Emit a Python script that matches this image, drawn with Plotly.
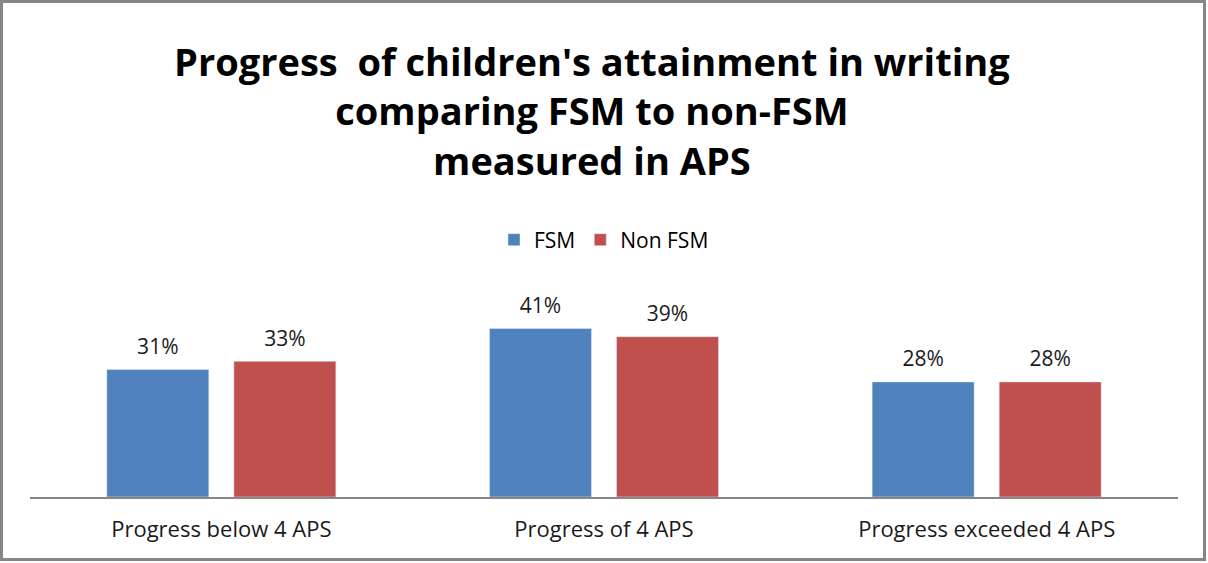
import plotly.graph_objects as go

categories = ["Progress below 4 APS", "Progress of 4 APS", "Progress exceeded 4 APS"]
fsm = [0.31, 0.41, 0.28]
non_fsm = [0.33, 0.39, 0.28]
series_names = ["FSM", "Non FSM"]
colors = ["#4F81BD", "#C0504D"]

W, H = 1208, 563
ml, mr, mt, mb = 30, 30, 312, 66

fig = go.Figure()
for name, vals, col in zip(series_names, [fsm, non_fsm], colors):
    fig.add_trace(go.Bar(
        x=categories, y=vals, name=name, marker_color=col,
        texttemplate="<span style='font-size:21px'>%{y:.0%}</span><br>&nbsp;",
        textposition="outside",
        textfont=dict(size=8, color="#1a1a1a"), cliponaxis=False,
    ))

pw = W - ml - mr
ph = H - mt - mb
fig.add_shape(type="rect", xref="paper", yref="paper",
              x0=(1.5 - ml) / pw, x1=(W - 3.5 - ml) / pw,
              y0=-(mb - 3.5) / ph, y1=1 + (mt - 1.5) / ph,
              line=dict(color="#868686", width=3))

fig.update_layout(
    width=W, height=H,
    margin=dict(l=ml, r=mr, t=mt, b=mb),
    paper_bgcolor="white", plot_bgcolor="white",
    barmode="group", bargap=0.336, bargroupgap=0.197,
    title=dict(
        text="Progress  of children's attainment in writing<br>comparing FSM to non-FSM<br>measured in APS",
        x=0.49, xanchor="center", y=1 - 76 / 563, yanchor="middle",
        font=dict(family="Open Sans", size=38, color="#000000", weight="bold"),
    ),
    legend=dict(orientation="h", x=0.5, xanchor="center", y=1 + (mt - 240) / ph, yanchor="middle",
                font=dict(family="Open Sans", size=21, color="#000000"), traceorder="normal"),
    font=dict(family="Open Sans", color="#000000"),
    showlegend=True,
)
fig.update_xaxes(showline=True, linecolor="#868686", linewidth=1.5, ticks="",
                 tickfont=dict(size=22, color="#1a1a1a"), showgrid=False,
                 ticklabelstandoff=12)
fig.update_yaxes(visible=False, range=[0, 0.45], showgrid=False)

fig.write_html("out.html", config={"displayModeBar": False},
               post_script="document.body.style.margin='0';document.body.style.overflow='hidden';")
